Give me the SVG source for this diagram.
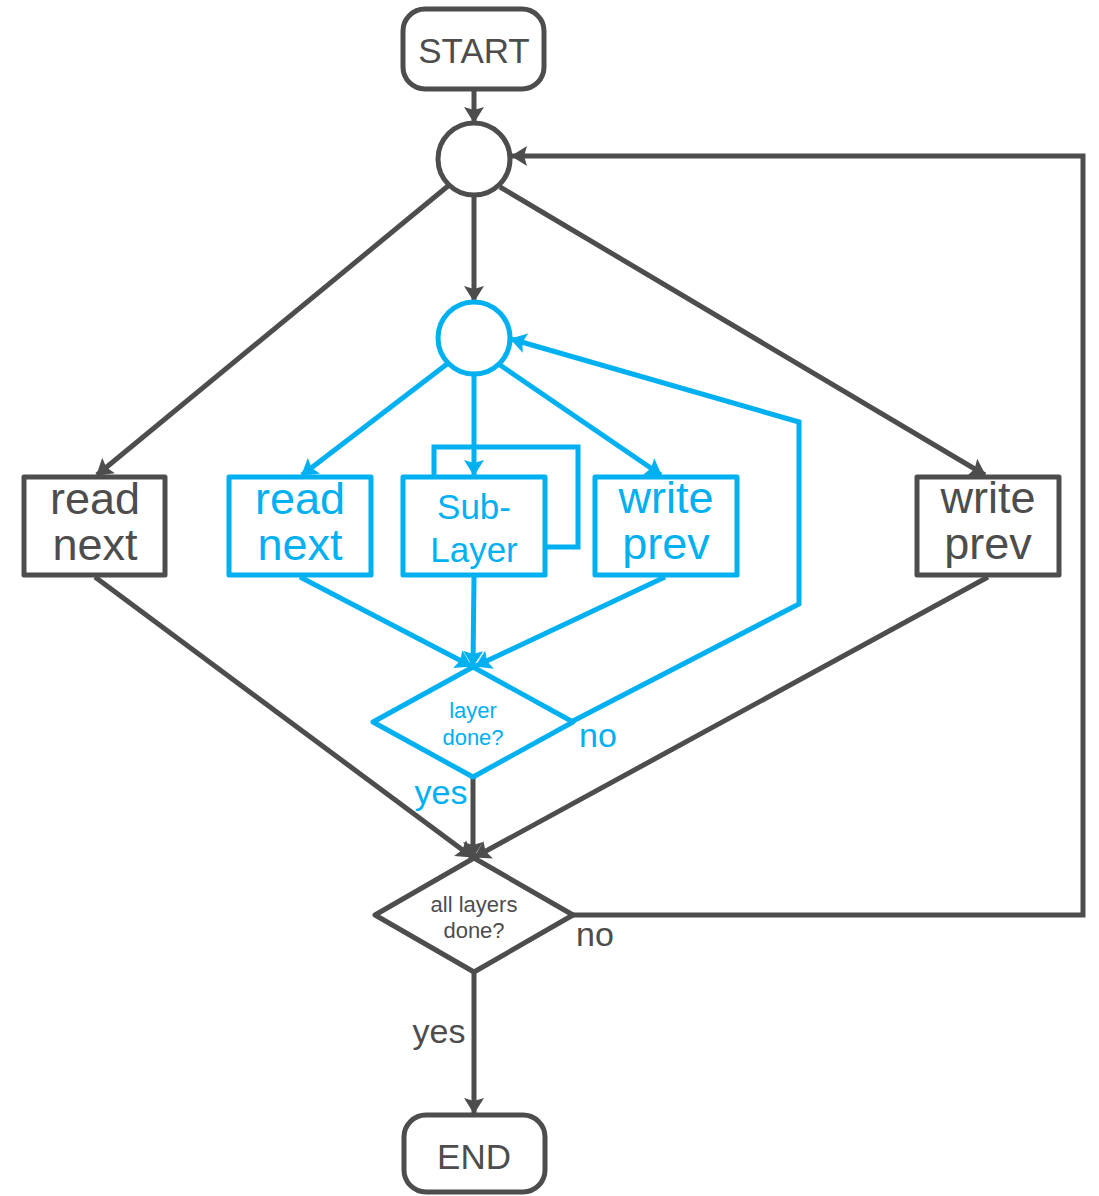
<svg xmlns="http://www.w3.org/2000/svg" width="1099" height="1196" viewBox="0 0 1099 1196">
  <style>
    .g { stroke: #4d4d4d; }
    .b { stroke: #00b0f0; }
    .shape { fill: #ffffff; stroke-width: 5; stroke-linejoin: round; }
    .edge { fill: none; stroke-width: 5; stroke-linejoin: miter; }
    text { font-family: "Liberation Sans", Arial, sans-serif; text-anchor: middle; }
    .tg { fill: #4d4d4d; }
    .tb { fill: #00b0f0; }
  </style>
  <defs>
    <marker id="ag" markerUnits="userSpaceOnUse" viewBox="0 0 16 20" markerWidth="16" markerHeight="20" refX="15" refY="10" orient="auto">
      <path d="M0,0 L16,10 L0,20 L3,10 z" fill="#4d4d4d"/>
    </marker>
    <marker id="ab" markerUnits="userSpaceOnUse" viewBox="0 0 16 20" markerWidth="16" markerHeight="20" refX="15" refY="10" orient="auto">
      <path d="M0,0 L16,10 L0,20 L3,10 z" fill="#00b0f0"/>
    </marker>
  </defs>

  <g id="connectors">
    <!-- outer (gray) flow -->
    <line class="edge g" x1="474" y1="90" x2="474" y2="122" marker-end="url(#ag)"/>
    <line class="edge g" x1="474" y1="196" x2="474" y2="301" marker-end="url(#ag)"/>
    <line class="edge g" x1="448" y1="186" x2="97" y2="475" marker-end="url(#ag)"/>
    <line class="edge g" x1="500" y1="187" x2="985" y2="475" marker-end="url(#ag)"/>
    <polyline class="edge g" points="573,915 1083,915 1083,156 512,156" marker-end="url(#ag)"/>
    <line class="edge g" x1="95" y1="577" x2="472" y2="857" marker-end="url(#ag)"/>
    <line class="edge g" x1="988" y1="577" x2="475" y2="857" marker-end="url(#ag)"/>
    <line class="edge g" x1="473" y1="777" x2="473" y2="857" marker-end="url(#ag)"/>
    <line class="edge g" x1="474" y1="972" x2="474" y2="1113" marker-end="url(#ag)"/>
    <!-- inner (blue) flow -->
    <line class="edge b" x1="447" y1="364" x2="302" y2="475" marker-end="url(#ab)"/>
    <line class="edge b" x1="474" y1="375" x2="474" y2="475" marker-end="url(#ab)"/>
    <line class="edge b" x1="500" y1="365" x2="661" y2="475" marker-end="url(#ab)"/>
    <polyline class="edge b" points="434,477 434,447 578,447 578,547 546,547"/>
    <polyline class="edge b" points="573,721 799,604 799,422 511,339" marker-end="url(#ab)"/>
    <line class="edge b" x1="300" y1="577" x2="471" y2="666" marker-end="url(#ab)"/>
    <line class="edge b" x1="474" y1="577" x2="473" y2="666" marker-end="url(#ab)"/>
    <line class="edge b" x1="665" y1="577" x2="476" y2="666" marker-end="url(#ab)"/>
  </g>

  <g id="start">
    <rect class="shape g" x="403" y="9" width="141" height="80" rx="22"/>
    <text class="tg" x="474" y="63" font-size="35">START</text>
  </g>
  <g id="layer-loop">
    <circle class="shape g" cx="474" cy="159" r="36"/>
  </g>
  <g id="sublayer-loop">
    <circle class="shape b" cx="474" cy="338" r="36"/>
  </g>
  <g id="read-next-outer">
    <rect class="shape g" x="24" y="477" width="141" height="98"/>
    <text class="tg" x="95" y="514" font-size="45">read</text>
    <text class="tg" x="95" y="560" font-size="45">next</text>
  </g>
  <g id="read-next-inner">
    <rect class="shape b" x="229" y="477" width="142" height="98"/>
    <text class="tb" x="300" y="514" font-size="45">read</text>
    <text class="tb" x="300" y="560" font-size="45">next</text>
  </g>
  <g id="sub-layer">
    <rect class="shape b" x="403" y="477" width="142" height="98"/>
    <text class="tb" x="474" y="519" font-size="35">Sub-</text>
    <text class="tb" x="474" y="562" font-size="35">Layer</text>
  </g>
  <g id="write-prev-inner">
    <rect class="shape b" x="595" y="477" width="142" height="98"/>
    <text class="tb" x="666" y="513" font-size="45">write</text>
    <text class="tb" x="666" y="559" font-size="45">prev</text>
  </g>
  <g id="write-prev-outer">
    <rect class="shape g" x="917" y="477" width="142" height="98"/>
    <text class="tg" x="988" y="513" font-size="45">write</text>
    <text class="tg" x="988" y="559" font-size="45">prev</text>
  </g>
  <g id="layer-done">
    <polygon class="shape b" points="473,667 573,722 473,777 373,722"/>
    <text class="tb" x="473" y="718" font-size="22">layer</text>
    <text class="tb" x="473" y="745" font-size="22">done?</text>
  </g>
  <g id="all-layers-done">
    <polygon class="shape g" points="474,858 573,915 474,972 375,915"/>
    <text class="tg" x="474" y="912" font-size="22">all layers</text>
    <text class="tg" x="474" y="938" font-size="22">done?</text>
  </g>
  <g id="end">
    <rect class="shape g" x="404" y="1115" width="141" height="77" rx="22"/>
    <text class="tg" x="474" y="1169" font-size="35">END</text>
  </g>

  <g id="labels">
    <text class="tb" x="598" y="747" font-size="34">no</text>
    <text class="tb" x="441" y="804" font-size="34">yes</text>
    <text class="tg" x="595" y="946" font-size="34">no</text>
    <text class="tg" x="439" y="1043" font-size="34">yes</text>
  </g>
</svg>
